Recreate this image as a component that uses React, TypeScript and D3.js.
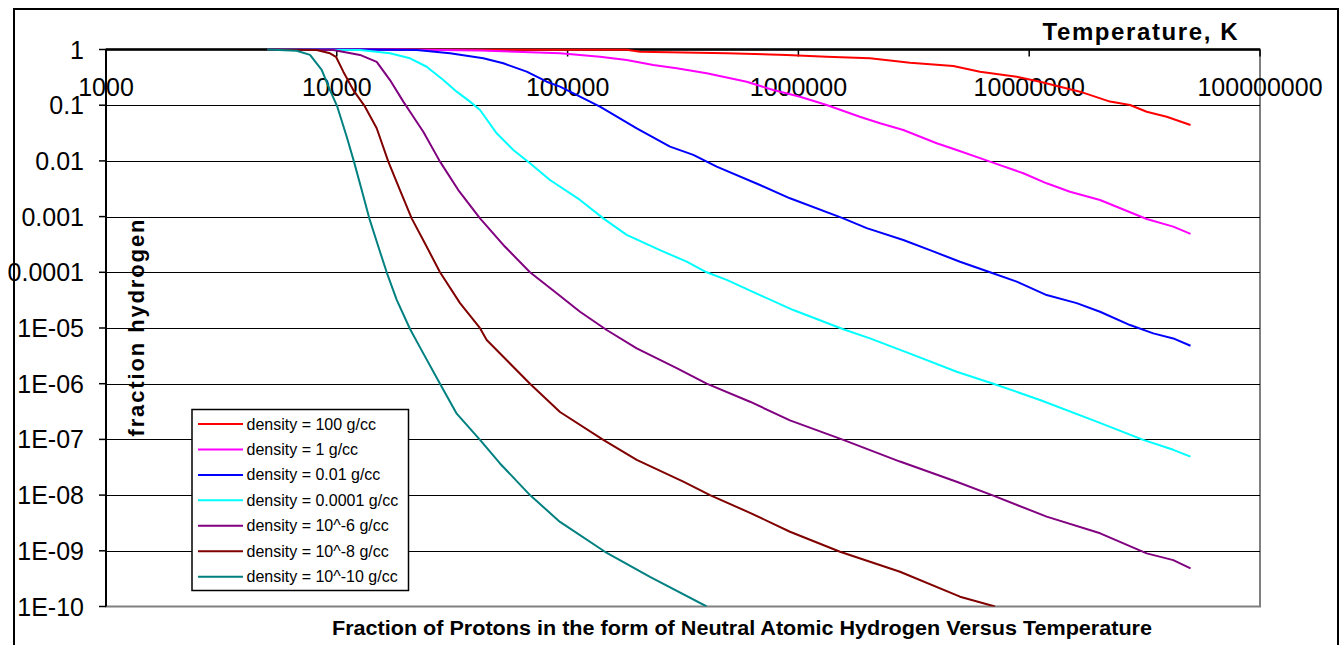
import React, { useEffect, useRef } from 'react';
import * as d3 from 'd3';

type Pt = [number, number];

// temperature (K), fraction of neutral hydrogen
const xTicks = [1000, 10000, 100000, 1000000, 10000000, 100000000];
const xTickLabels = ['1000', '10000', '100000', '1000000', '10000000', '100000000'];
const yTicks = [1, 0.1, 0.01, 0.001, 0.0001, 1e-5, 1e-6, 1e-7, 1e-8, 1e-9, 1e-10];
const yTickLabels = ['1', '0.1', '0.01', '0.001', '0.0001', '1E-05', '1E-06', '1E-07', '1E-08', '1E-09', '1E-10'];

const rho100: Pt[] = [
  [5000, 1], [180000, 0.99], [205900, 0.913], [489000, 0.855], [889700, 0.797], [1326000, 0.743],
  [2043000, 0.695], [3044000, 0.58], [4690000, 0.506], [6120000, 0.4], [8830000, 0.325],
  [11140000, 0.264], [16600000, 0.175], [22390000, 0.116], [27340000, 0.101], [32290000, 0.0764],
  [39420000, 0.062], [50000000, 0.044],
];
const rho1: Pt[] = [
  [5000, 1], [18780, 1], [41740, 0.96], [92700, 0.855], [138100, 0.74], [180300, 0.65],
  [235100, 0.527], [296900, 0.46], [400600, 0.374], [597000, 0.264], [778600, 0.187],
  [1016000, 0.142], [1326000, 0.101], [1845000, 0.062], [2258000, 0.0473], [2848000, 0.0359],
  [3974000, 0.0207], [4852000, 0.0157], [6764000, 0.0097], [9430000, 0.006], [11900000, 0.00396],
  [15020000, 0.0028], [20270000, 0.00199], [32290000, 0.000906], [42100000, 0.00066], [50000000, 0.00049],
];
const rho1em2: Pt[] = [
  [5000, 1], [12600, 1], [22190, 0.98], [30940, 0.855], [43130, 0.695], [52650, 0.565],
  [66480, 0.4], [81210, 0.264], [92700, 0.215], [113200, 0.142], [138100, 0.094],
  [199300, 0.0385], [277800, 0.018], [350500, 0.0128], [442600, 0.00787], [681800, 0.00369],
  [919400, 0.00213], [1565000, 0.00093], [1977000, 0.00062], [2848000, 0.00038], [3716000, 0.00025],
  [5013000, 0.000155], [6764000, 0.0001], [8830000, 6.8e-5], [11900000, 3.9e-5], [16060000, 2.8e-5],
  [20270000, 1.96e-5], [27340000, 1.13e-5], [34490000, 8.0e-6], [42100000, 6.5e-6], [50000000, 4.8e-6],
];
const rho1em4: Pt[] = [
  [5000, 1], [12600, 0.98], [17000, 0.855], [20760, 0.695], [24520, 0.49], [28940, 0.283],
  [33080, 0.175], [37760, 0.116], [41740, 0.082], [49290, 0.0313], [58190, 0.0157],
  [68710, 0.0091], [83880, 0.00454], [113200, 0.00199], [142800, 0.00093], [180300, 0.00047],
  [251400, 0.00025], [328100, 0.000155], [400600, 0.0001], [489000, 7.3e-5], [681800, 3.9e-5],
  [950400, 2.1e-5], [1565000, 9.5e-6], [2043000, 6.5e-6], [3146000, 3.3e-6], [4852000, 1.64e-6],
  [6990000, 1.0e-6], [11140000, 5.1e-7], [19610000, 2.08e-7], [31220000, 9.8e-8], [42100000, 6.5e-8],
  [50000000, 4.9e-8],
];
const rho1em6: Pt[] = [
  [5000, 1], [9656, 0.98], [12600, 0.8], [14890, 0.6], [17000, 0.283], [19420, 0.116],
  [20760, 0.0764], [23700, 0.0334], [28000, 0.0097], [33610, 0.003], [41740, 0.00093],
  [52650, 0.00031], [68710, 0.0001], [89700, 4.2e-5], [113200, 1.96e-5], [147700, 9.2e-6],
  [199300, 4.3e-6], [296900, 1.9e-6], [400600, 1.0e-6], [617100, 4.75e-7], [919400, 2.2e-7],
  [1565000, 9.8e-8], [2755000, 4.0e-8], [4850000, 1.74e-8], [6990000, 9.8e-9], [11900000, 4.1e-9],
  [20300000, 2.06e-9], [32300000, 9.0e-10], [42100000, 6.8e-10], [50000000, 4.85e-10],
];
const rho1em8: Pt[] = [
  [5000, 1], [8180, 0.98], [9343, 0.855], [9920, 0.74], [10670, 0.4], [11790, 0.187],
  [13250, 0.094], [14890, 0.0385], [16720, 0.0097], [18780, 0.003], [21110, 0.00093],
  [24110, 0.00033], [28000, 0.0001], [34190, 2.8e-5], [41740, 9.9e-6], [44620, 6.1e-6],
  [52650, 3.05e-6], [68710, 1.0e-6], [92700, 3.1e-7], [142800, 9.8e-8], [199300, 4.3e-8],
  [317200, 1.74e-8], [414000, 1.0e-8], [617100, 4.8e-9], [919400, 2.2e-9], [1515000, 9.6e-10],
  [2755000, 4.2e-10], [5013000, 1.5e-10], [7110000, 1.0e-10],
];
const rho1em10: Pt[] = [
  [5000, 1], [6700, 0.95], [7656, 0.8], [8602, 0.43], [9343, 0.187], [10050, 0.094],
  [11040, 0.0272], [11870, 0.0097], [12820, 0.003], [13830, 0.00093], [15130, 0.00029],
  [16450, 0.0001], [18180, 3.2e-5], [20760, 9.6e-6], [23700, 3.5e-6], [28000, 1.0e-6],
  [33080, 2.9e-7], [41740, 9.8e-8], [50940, 3.7e-8], [68710, 1.0e-8], [92700, 3.3e-9],
  [145200, 9.6e-10], [227500, 3.4e-10], [400600, 1.0e-10],
];

const seriesNames = [
  'density = 100 g/cc',
  'density = 1 g/cc',
  'density = 0.01 g/cc',
  'density = 0.0001 g/cc',
  'density = 10^-6 g/cc',
  'density = 10^-8 g/cc',
  'density = 10^-10 g/cc',
];
const seriesData = [rho100, rho1, rho1em2, rho1em4, rho1em6, rho1em8, rho1em10];
const seriesColors = ['#FF0000', '#FF00FF', '#0000FF', '#00FFFF', '#800080', '#800000', '#008080'];

export default function App() {
  const svgRef = useRef<SVGSVGElement>(null);

  useEffect(() => {
    if (!svgRef.current) return;
    const svg = d3.select(svgRef.current);
    svg.selectAll('*').remove();

    const left = 106, right = 1260, top = 49.5, bottom = 606.5;
    const font = 'Arial, "Liberation Sans", sans-serif';

    const x = d3.scaleLog().domain([1000, 1e8]).range([left, right]);
    const y = d3.scaleLog().domain([1e-10, 1]).range([bottom, top]);

    // outer chart frame
    svg.append('rect')
      .attr('x', 14).attr('y', 9)
      .attr('width', 1324).attr('height', 660)
      .attr('fill', '#fff')
      .attr('stroke', '#000')
      .attr('stroke-width', 2);

    // plot area border (grey)
    svg.append('rect')
      .attr('x', left).attr('y', top)
      .attr('width', right - left).attr('height', bottom - top)
      .attr('fill', '#fff')
      .attr('stroke', '#808080')
      .attr('stroke-width', 2);

    // horizontal gridlines
    svg.append('g')
      .selectAll('line')
      .data(yTicks.slice(1, -1))
      .join('line')
      .attr('x1', left).attr('x2', right)
      .attr('y1', d => Math.round(y(d)) + 0.5)
      .attr('y2', d => Math.round(y(d)) + 0.5)
      .attr('stroke', '#000')
      .attr('stroke-width', 1)
      .attr('shape-rendering', 'crispEdges');

    // y axis
    const yAxis = svg.append('g');
    yAxis.append('line')
      .attr('x1', left).attr('x2', left)
      .attr('y1', top).attr('y2', bottom)
      .attr('stroke', '#000').attr('stroke-width', 2);
    yAxis.selectAll('line.tick')
      .data(yTicks)
      .join('line')
      .attr('class', 'tick')
      .attr('x1', left - 7).attr('x2', left)
      .attr('y1', d => y(d)).attr('y2', d => y(d))
      .attr('stroke', '#000').attr('stroke-width', 1.5);
    yAxis.selectAll('text')
      .data(yTicks)
      .join('text')
      .attr('x', 84)
      .attr('y', d => y(d) + 9)
      .attr('text-anchor', 'end')
      .attr('font-family', font)
      .attr('font-size', 25)
      .attr('fill', '#000')
      .text((_, i) => yTickLabels[i]);

    // x axis at top (y = 1)
    const xAxis = svg.append('g');
    xAxis.append('line')
      .attr('x1', left).attr('x2', right)
      .attr('y1', top).attr('y2', top)
      .attr('stroke', '#000').attr('stroke-width', 2.5);
    xAxis.selectAll('line.tick')
      .data(xTicks)
      .join('line')
      .attr('class', 'tick')
      .attr('x1', d => x(d)).attr('x2', d => x(d))
      .attr('y1', top).attr('y2', top + 7)
      .attr('stroke', '#000').attr('stroke-width', 1.5);

    // clip for the curves
    svg.append('clipPath').attr('id', 'plot-clip')
      .append('rect')
      .attr('x', left).attr('y', top - 2)
      .attr('width', right - left).attr('height', bottom - top + 2);

    const line = d3.line<Pt>()
      .x(d => x(d[0]))
      .y(d => y(d[1]));

    svg.append('g')
      .attr('clip-path', 'url(#plot-clip)')
      .selectAll('path')
      .data(seriesData)
      .join('path')
      .attr('d', d => line(d))
      .attr('fill', 'none')
      .attr('stroke', (_, i) => seriesColors[i])
      .attr('stroke-width', 2)
      .attr('stroke-linejoin', 'round');

    // x tick labels drawn over the curves, like the original
    xAxis.selectAll('text')
      .data(xTicks)
      .join('text')
      .attr('x', d => x(d))
      .attr('y', 96)
      .attr('text-anchor', 'middle')
      .attr('font-family', font)
      .attr('font-size', 25)
      .attr('fill', '#000')
      .text((_, i) => xTickLabels[i]);

    // axis titles
    svg.append('text')
      .attr('x', 1140).attr('y', 40)
      .attr('text-anchor', 'middle')
      .attr('font-family', font)
      .attr('font-size', 24)
      .attr('font-weight', 'bold')
      .attr('textLength', 195)
      .attr('lengthAdjust', 'spacing')
      .text('Temperature, K');

    svg.append('text')
      .attr('transform', 'translate(144, 328) rotate(-90)')
      .attr('text-anchor', 'middle')
      .attr('font-family', font)
      .attr('font-size', 22)
      .attr('font-weight', 'bold')
      .attr('textLength', 217)
      .attr('lengthAdjust', 'spacing')
      .text('fraction hydrogen');

    svg.append('text')
      .attr('x', 742).attr('y', 635)
      .attr('text-anchor', 'middle')
      .attr('font-family', font)
      .attr('font-size', 20)
      .attr('font-weight', 'bold')
      .attr('textLength', 820)
      .attr('lengthAdjust', 'spacingAndGlyphs')
      .text('Fraction of Protons in the form of Neutral Atomic Hydrogen Versus Temperature');

    // legend
    const lg = svg.append('g');
    lg.append('rect')
      .attr('x', 192).attr('y', 409.5)
      .attr('width', 216.5).attr('height', 181)
      .attr('fill', '#fff')
      .attr('stroke', '#000')
      .attr('stroke-width', 1.5);
    const rows = lg.selectAll('g.row')
      .data(seriesNames)
      .join('g')
      .attr('class', 'row')
      .attr('transform', (_, i) => `translate(0, ${424 + i * 25.45})`);
    rows.append('line')
      .attr('x1', 198).attr('x2', 243)
      .attr('stroke', (_, i) => seriesColors[i])
      .attr('stroke-width', 2);
    rows.append('text')
      .attr('x', 246.5)
      .attr('y', 5.5)
      .attr('font-family', font)
      .attr('font-size', 16)
      .attr('fill', '#000')
      .text(d => d);
  }, []);

  return (
    <svg
      ref={svgRef}
      width={1342}
      height={645}
      style={{ position: 'fixed', left: 0, top: 0, background: '#fff' }}
    />
  );
}
